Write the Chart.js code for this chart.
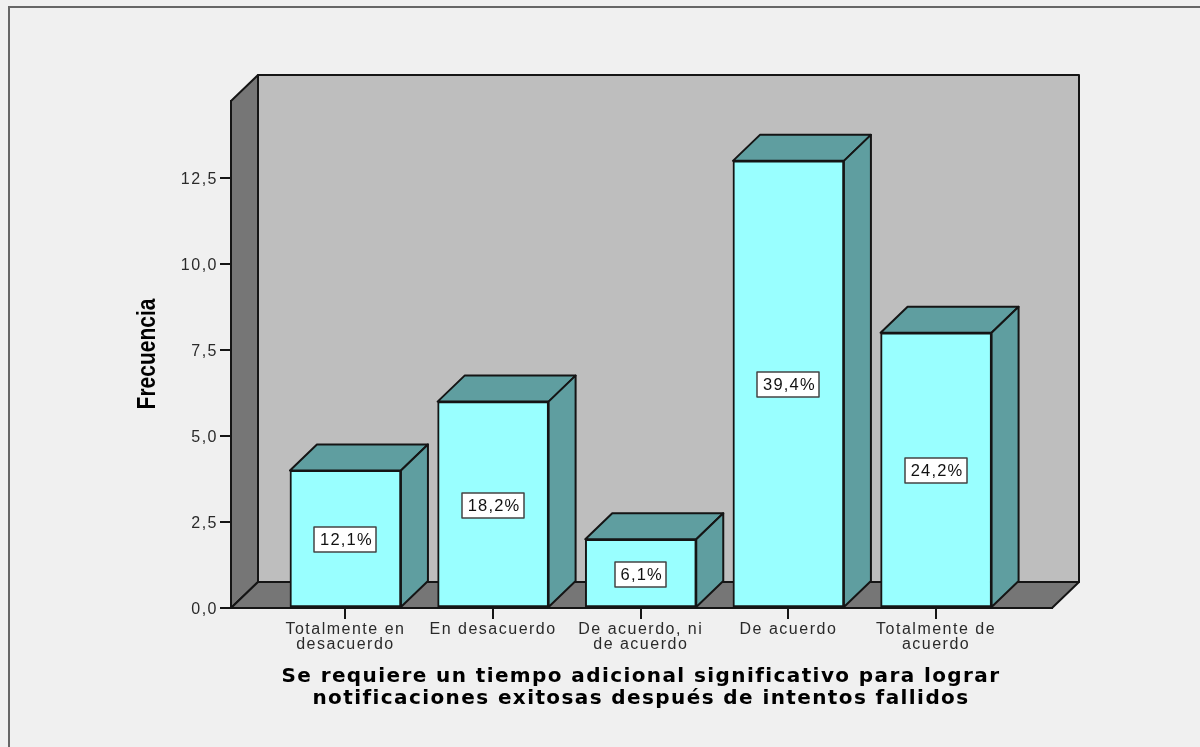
<!DOCTYPE html>
<html lang="es">
<head>
<meta charset="utf-8">
<title>Frecuencia</title>
<script src="https://cdn.jsdelivr.net/npm/chart.js@4"></script>
<style>
  html, body { margin: 0; padding: 0; background: #f0f0f0; }
  canvas { display: block; }
</style>
</head>
<body>
<canvas id="chart" width="1200" height="747"></canvas>
<script>
const categories = [
  ['Totalmente en', 'desacuerdo'],
  'En desacuerdo',
  ['De acuerdo, ni', 'de acuerdo'],
  'De acuerdo',
  ['Totalmente de', 'acuerdo']
];
const frecuencias = [4, 6, 2, 13, 8];
const porcentajes = ['12,1%', '18,2%', '6,1%', '39,4%', '24,2%'];
const yTicks = [0, 2.5, 5, 7.5, 10, 12.5];
const xTitle = ['Se requiere un tiempo adicional significativo para lograr', 'notificaciones exitosas después de intentos fallidos'];
const yTitle = 'Frecuencia';

const depthX = 27;
const depthY = 26;
const lineColor = '#151515';

function face(ctx, pts, fill) {
  ctx.beginPath();
  pts.forEach((p, i) => i ? ctx.lineTo(p[0], p[1]) : ctx.moveTo(p[0], p[1]));
  ctx.closePath();
  ctx.fillStyle = fill;
  ctx.fill();
  ctx.lineWidth = 2;
  ctx.strokeStyle = lineColor;
  ctx.lineJoin = 'round';
  ctx.stroke();
}

// fondo, paredes y suelo de la caja 3D
const boxPlugin = {
  id: 'box3d',
  beforeDraw(chart) {
    const ctx = chart.ctx;
    const { left, right, top, bottom } = chart.chartArea;
    ctx.fillStyle = '#f0f0f0';
    ctx.fillRect(0, 0, chart.width, chart.height);
    ctx.fillStyle = '#666';
    ctx.fillRect(8, 6, chart.width - 8, 2);
    ctx.fillRect(8, 6, 2, chart.height - 6);

    ctx.letterSpacing = '0px';
    face(ctx, [[left + depthX, top - depthY], [right + depthX, top - depthY], [right + depthX, bottom - depthY], [left + depthX, bottom - depthY]], '#bebebe');
    face(ctx, [[left, top], [left + depthX, top - depthY], [left + depthX, bottom - depthY], [left, bottom]], '#767676');
    face(ctx, [[left, bottom], [left + depthX, bottom - depthY], [right + depthX, bottom - depthY], [right, bottom]], '#767676');
    // para las etiquetas de los ejes
    ctx.letterSpacing = '1.5px';
  },
  beforeDatasetsDraw(chart) {
    const ctx = chart.ctx;
    chart.getDatasetMeta(0).data.forEach(bar => {
      const l = bar.x - bar.width / 2;
      const r = bar.x + bar.width / 2;
      face(ctx, [[l, bar.y], [l + depthX, bar.y - depthY], [r + depthX, bar.y - depthY], [r, bar.y]], '#5f9ea0');
      face(ctx, [[r, bar.y], [r + depthX, bar.y - depthY], [r + depthX, bar.base - depthY], [r, bar.base]], '#5f9ea0');
    });
  },
  afterDatasetsDraw(chart) {
    const ctx = chart.ctx;
    const yScale = chart.scales.y;
    ctx.save();
    ctx.font = '16.5px "Liberation Sans"';
    ctx.letterSpacing = '1.2px';
    ctx.textAlign = 'center';
    ctx.textBaseline = 'middle';
    chart.getDatasetMeta(0).data.forEach((bar, i) => {
      const cy = Math.round(yScale.getPixelForValue(frecuencias[i] / 2));
      const w = Math.round(ctx.measureText(porcentajes[i]).width) + 9;
      const x0 = Math.round(bar.x - w / 2);
      ctx.fillStyle = '#fff';
      ctx.fillRect(x0, cy - 12, w, 25);
      ctx.strokeStyle = '#444';
      ctx.lineWidth = 1.5;
      ctx.strokeRect(x0, cy - 12, w, 25);
      ctx.fillStyle = '#111';
      ctx.fillText(porcentajes[i], bar.x + 1, cy + 1);
    });
    ctx.restore();
  },
  afterDraw(chart) {
    const ctx = chart.ctx;
    ctx.save();
    ctx.fillStyle = '#000';
    ctx.textAlign = 'center';
    ctx.textBaseline = 'middle';
    ctx.font = 'bold 20px "DejaVu Sans"';
    ctx.letterSpacing = '1.4px';
    xTitle.forEach((line, i) => ctx.fillText(line, 641, 677 + i * 22));
    ctx.restore();

    // titulo vertical, estrecho como en el original
    ctx.save();
    ctx.translate(148, 354);
    ctx.rotate(-Math.PI / 2);
    ctx.scale(1, 1.25);
    ctx.fillStyle = '#000';
    ctx.textAlign = 'center';
    ctx.textBaseline = 'middle';
    ctx.letterSpacing = '0px';
    ctx.font = 'bold 21px "Liberation Sans"';
    ctx.fillText(yTitle, 0, 0);
    ctx.restore();
  }
};

new Chart(document.getElementById('chart'), {
  type: 'bar',
  data: {
    datasets: [{
      data: frecuencias.map((y, i) => ({ x: i, y })),
      backgroundColor: '#99ffff',
      borderColor: lineColor,
      borderWidth: 2,
      borderSkipped: false,
      barThickness: 111
    }]
  },
  options: {
    responsive: false,
    animation: false,
    devicePixelRatio: 1,
    layout: { padding: { top: 101, right: 148 } },
    plugins: { legend: { display: false }, tooltip: { enabled: false } },
    scales: {
      x: {
        type: 'linear',
        offset: false,
        min: -0.775,
        max: 4.785,
        afterBuildTicks(scale) { scale.ticks = categories.map((c, i) => ({ value: i })); },
        afterFit(scale) { scale.height = 139; },
        grid: { offset: false, drawOnChartArea: false, color: lineColor, lineWidth: 2, tickLength: 11 },
        border: { color: lineColor, width: 2 },
        ticks: {
          autoSkip: false,
          maxRotation: 0,
          padding: 3,
          color: '#2a2a2a',
          font: { family: '"Liberation Sans"', size: 16, lineHeight: 0.94 },
          callback: value => categories[value]
        }
      },
      y: {
        min: 0,
        max: 14.74,
        afterBuildTicks(scale) { scale.ticks = yTicks.map(value => ({ value })); },
        afterFit(scale) { scale.width = 231; },
        grid: { drawOnChartArea: false, color: lineColor, lineWidth: 2, tickLength: 11 },
        border: { color: lineColor, width: 2 },
        ticks: {
          padding: 2,
          labelOffset: 2,
          color: '#2a2a2a',
          font: { family: '"Liberation Sans"', size: 16 },
          callback: value => value.toFixed(1).replace('.', ',')
        }
      }
    }
  },
  plugins: [boxPlugin]
});
</script>
</body>
</html>
